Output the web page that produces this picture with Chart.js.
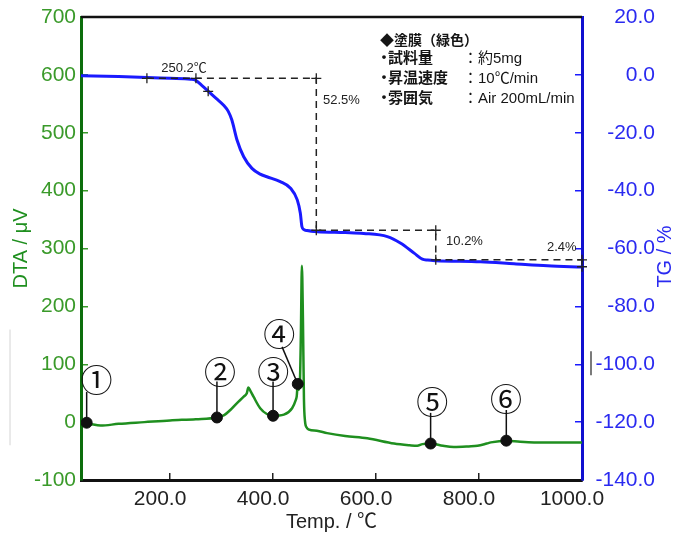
<!DOCTYPE html>
<html>
<head>
<meta charset="utf-8">
<script src="https://cdn.jsdelivr.net/npm/chart.js@4/dist/chart.umd.min.js"></script>
<style>
  html, body { margin: 0; padding: 0; background: #fff; }
  #wrap { width: 679px; height: 534px; }
</style>
</head>
<body>
<div id="wrap"><canvas id="c" width="679" height="534"></canvas></div>
<script>
// ---- DTA signal (µV) against temperature (°C)
const dtaTemp = [27, 38, 50, 65, 100, 150, 200, 250, 291, 305, 317, 330, 343, 349, 352, 356, 362, 375, 388, 400,
                 421, 437, 444, 446, 448, 450, 452, 454, 456, 458, 460, 462, 465, 470, 485, 505, 540, 583, 635, 665,
                 680, 690, 706, 730, 751, 780, 797, 815, 823, 853, 880, 907, 950, 1000];
const dtaSignal = [-3, -1, -4, -6, -3, 0, 3, 5, 8, 12, 21, 33, 44, 50, 60, 54, 44, 24, 14, 11,
                   13, 24, 38, 45, 66, 56, 66, 150, 270, 180, 40, 2, -9, -13, -15, -19, -24, -28, -37, -40,
                   -41, -38, -37, -41, -43, -42, -41, -37, -35, -32, -34, -35, -35, -35];

// ---- TG mass change (%) against temperature (°C)
const tgTemp = [27, 100, 155, 200, 240, 250, 262, 275, 290, 304, 313, 320, 330, 343, 359, 375, 388, 414, 434, 447,
                453, 456, 460, 466, 486, 540, 576, 622, 648, 674, 690, 700, 716, 803, 868, 933, 1000];
const tgMass = [-0.3, -0.6, -0.9, -1.2, -1.5, -1.9, -3.7, -5.8, -8.2, -10.5, -12.6, -15.6, -22.5, -28.3, -32.3, -34.3, -35.2, -36.9, -39.2, -43.2,
                -47.8, -52.4, -53.5, -53.8, -54.2, -54.5, -54.8, -55.9, -58.2, -61.6, -63.7, -64.0, -64.2, -64.6, -65.3, -66.0, -66.4];

// ---- step analysis of the TG curve
const stepTemp  = [155, 484, 484, 716, 716, 1000, 1000];
const stepLevel = [-1.2, -1.2, -53.7, -53.7, -63.9, -63.9, -66.3];
const onsetTemp  = [250.2, 274];
const onsetLevel = [-1.2, -5.7];
const stepTexts = ['250.2℃', '52.5%', '10.2%', '2.4%'];

// ---- numbered points on the DTA curve
const pointTemp   = [38, 291, 400, 448, 706, 853];
const pointSignal = [-1, 8, 11, 66, -37, -32];
const pointNames  = ['①', '②', '③', '④', '⑤', '⑥'];

// ---- axis ticks
const tempTicks = [200, 400, 600, 800, 1000];
const dtaTicks  = [-100, 0, 100, 200, 300, 400, 500, 600, 700];
const tgTicks   = [-140, -120, -100, -80, -60, -40, -20, 0, 20];

// ---- measurement conditions
const condTitle  = '◆塗膜（緑色）';
const condNames  = ['試料量', '昇温速度', '雰囲気'];
const condValues = ['約5mg', '10℃/min', 'Air 200mL/min'];

const FONT = "'Liberation Sans', Arial, 'Noto Sans CJK JP', sans-serif";
const GREEN = '#1f8f1f';
const GREEN_TXT = '#3a9a2a';
const BLUE = '#1a1aff';
const BLUE_TXT = '#2a2af0';

// callout placement (label centre and leader end) in data units
const callouts = [
  { label: [57, 73],    lead: [38, 52] },
  { label: [297, 87],   lead: [291, 70] },
  { label: [400.5, 87], lead: [400, 70] },
  { label: [412, 152],  lead: [417.5, 130] },
  { label: [709, 35],   lead: [706, 16] },
  { label: [852.5, 41], lead: [853, 21] }
];

const dtaData   = dtaTemp.map((t, i) => ({ x: t, y: dtaSignal[i] }));
const tgData    = tgTemp.map((t, i) => ({ x: t, y: tgMass[i] }));
const stepData  = stepTemp.map((t, i) => ({ x: t, y: stepLevel[i] }));
const onsetData = onsetTemp.map((t, i) => ({ x: t, y: onsetLevel[i] }));
const pointData = pointTemp.map((t, i) => ({ x: t, y: pointSignal[i] }));

const leaderSets = pointTemp.map((t, i) => ({
  data: [{ x: t, y: pointSignal[i] }, { x: callouts[i].lead[0], y: callouts[i].lead[1] }],
  yAxisID: 'y', showLine: true, borderColor: '#111', borderWidth: 1.5, pointRadius: 0
}));

// fixed box sizes so the plot frame sits where the labels expect it
const noPad = s => { s.paddingTop = 0; s.paddingBottom = 0; s.paddingLeft = 0; s.paddingRight = 0; };

const decor = {
  id: 'decor',
  afterDraw(chart) {
    const { ctx, chartArea: a, scales: { x, y, y2 } } = chart;
    ctx.save();

    // upper frame edge
    ctx.strokeStyle = '#111';
    ctx.lineWidth = 2.5;
    ctx.beginPath();
    ctx.moveTo(a.left, a.top);
    ctx.lineTo(a.right, a.top);
    ctx.stroke();

    // right axis title
    ctx.save();
    ctx.translate(665, (a.top + a.bottom) / 2 + 8);
    ctx.rotate(-Math.PI / 2);
    ctx.fillStyle = BLUE_TXT;
    ctx.font = '20px ' + FONT;
    ctx.textAlign = 'center';
    ctx.textBaseline = 'middle';
    ctx.fillText('TG / %', 0, 0);
    ctx.restore();

    // small bar beside the -100.0 label
    ctx.strokeStyle = '#222';
    ctx.lineWidth = 1.2;
    const yb = y2.getPixelForValue(-100);
    ctx.beginPath();
    ctx.moveTo(a.right + 9, yb - 13);
    ctx.lineTo(a.right + 9, yb + 11);
    ctx.stroke();

    // faint guide at the far left
    ctx.strokeStyle = '#d4d4d4';
    ctx.lineWidth = 1;
    ctx.beginPath();
    ctx.moveTo(10, y.getPixelForValue(160));
    ctx.lineTo(10, y.getPixelForValue(-40));
    ctx.stroke();

    // step annotation texts
    ctx.fillStyle = '#222';
    ctx.font = '13px ' + FONT;
    ctx.textBaseline = 'middle';
    ctx.textAlign = 'center';
    ctx.fillText(stepTexts[0], x.getPixelForValue(227), y2.getPixelForValue(2.4));
    ctx.textAlign = 'left';
    ctx.fillText(stepTexts[1], x.getPixelForValue(497), y2.getPixelForValue(-8.7));
    ctx.fillText(stepTexts[2], x.getPixelForValue(736), y2.getPixelForValue(-57.7));
    ctx.fillText(stepTexts[3], x.getPixelForValue(932), y2.getPixelForValue(-59.8));

    // numbered callouts
    ctx.fillStyle = '#111';
    ctx.font = "32px 'Noto Sans CJK JP'";
    ctx.textAlign = 'center';
    ctx.textBaseline = 'middle';
    callouts.forEach((c, i) => {
      ctx.fillText(pointNames[i], x.getPixelForValue(c.label[0]), y.getPixelForValue(c.label[1]));
    });

    // measurement conditions block
    const bx = a.right - 202;
    ctx.fillStyle = '#151515';
    ctx.textAlign = 'left';
    ctx.font = 'bold 14px ' + FONT;
    ctx.fillText(condTitle, bx, a.top + 24);
    const rows = [a.top + 42, a.top + 62, a.top + 82];
    condNames.forEach((n, i) => {
      ctx.font = 'bold 15px ' + FONT;
      ctx.textAlign = 'center';
      ctx.fillText('・', bx + 4, rows[i]);
      ctx.textAlign = 'left';
      ctx.fillText(n, bx + 8, rows[i]);
      ctx.font = '15px ' + FONT;
      ctx.fillText('：' + condValues[i], bx + 83, rows[i]);
    });

    ctx.restore();
  }
};

new Chart(document.getElementById('c'), {
  type: 'scatter',
  data: {
    datasets: [
      { data: pointData, yAxisID: 'y', pointRadius: 5.5, pointBackgroundColor: '#111', pointBorderColor: '#111', showLine: false },
      ...leaderSets,
      { data: onsetData, yAxisID: 'y2', showLine: false, pointStyle: 'cross', pointRadius: 5, borderColor: '#222', borderWidth: 1.3 },
      { data: stepData, yAxisID: 'y2', showLine: true, borderColor: '#222', borderWidth: 1.5, borderDash: [7, 5],
        pointStyle: 'cross', pointRadius: 5, pointBorderColor: '#222', pointBorderWidth: 1.3, clip: false },
      { data: tgData, yAxisID: 'y2', showLine: true, borderColor: BLUE, borderWidth: 3, pointRadius: 0,
        cubicInterpolationMode: 'monotone' },
      { data: dtaData, yAxisID: 'y', showLine: true, borderColor: GREEN, borderWidth: 2.5, pointRadius: 0,
        cubicInterpolationMode: 'monotone' }
    ]
  },
  options: {
    responsive: false,
    animation: false,
    events: [],
    layout: { padding: { top: 17, left: 0, right: 24, bottom: 0 } },
    plugins: { legend: { display: false }, tooltip: { enabled: false } },
    scales: {
      x: {
        type: 'linear', position: 'bottom', min: 27, max: 1000,
        afterBuildTicks: s => { s.ticks = tempTicks.map(v => ({ value: v })); },
        afterFit: s => { s.height = 54; noPad(s); },
        border: { color: '#111', width: 3 },
        grid: { drawOnChartArea: false, tickLength: -7, color: '#222', lineWidth: 1.5 },
        ticks: { padding: 14, labelOffset: -10, color: '#222', font: { family: FONT, size: 21 },
                 maxRotation: 0, autoSkip: false, callback: v => Number(v).toFixed(1) },
        title: { display: true, text: 'Temp. / ℃', color: '#222', font: { family: FONT, size: 20 },
                 padding: { top: 0, bottom: 0 } }
      },
      y: {
        type: 'linear', position: 'left', min: -100, max: 700,
        afterBuildTicks: s => { s.ticks = dtaTicks.map(v => ({ value: v })); },
        afterFit: s => { s.width = 81; noPad(s); },
        border: { color: '#0c6e0c', width: 3 },
        grid: { drawOnChartArea: false, tickLength: -7, color: GREEN_TXT, lineWidth: 1.5 },
        ticks: { padding: 12, color: GREEN_TXT, font: { family: FONT, size: 21 }, callback: v => String(v) },
        title: { display: true, text: 'DTA / μV', color: GREEN, font: { family: FONT, size: 20 },
                 padding: { top: 9, bottom: 0 } }
      },
      y2: {
        type: 'linear', position: 'right', min: -140, max: 20,
        afterBuildTicks: s => { s.ticks = tgTicks.map(v => ({ value: v })); },
        afterFit: s => { s.width = 73; noPad(s); },
        border: { color: '#1010d0', width: 3 },
        grid: { drawOnChartArea: false, tickLength: -7, color: BLUE, lineWidth: 1.5 },
        ticks: { padding: 10, crossAlign: 'far', color: BLUE_TXT, font: { family: FONT, size: 21 },
                 callback: v => Number(v).toFixed(1) }
      }
    }
  },
  plugins: [decor]
});
</script>
</body>
</html>
